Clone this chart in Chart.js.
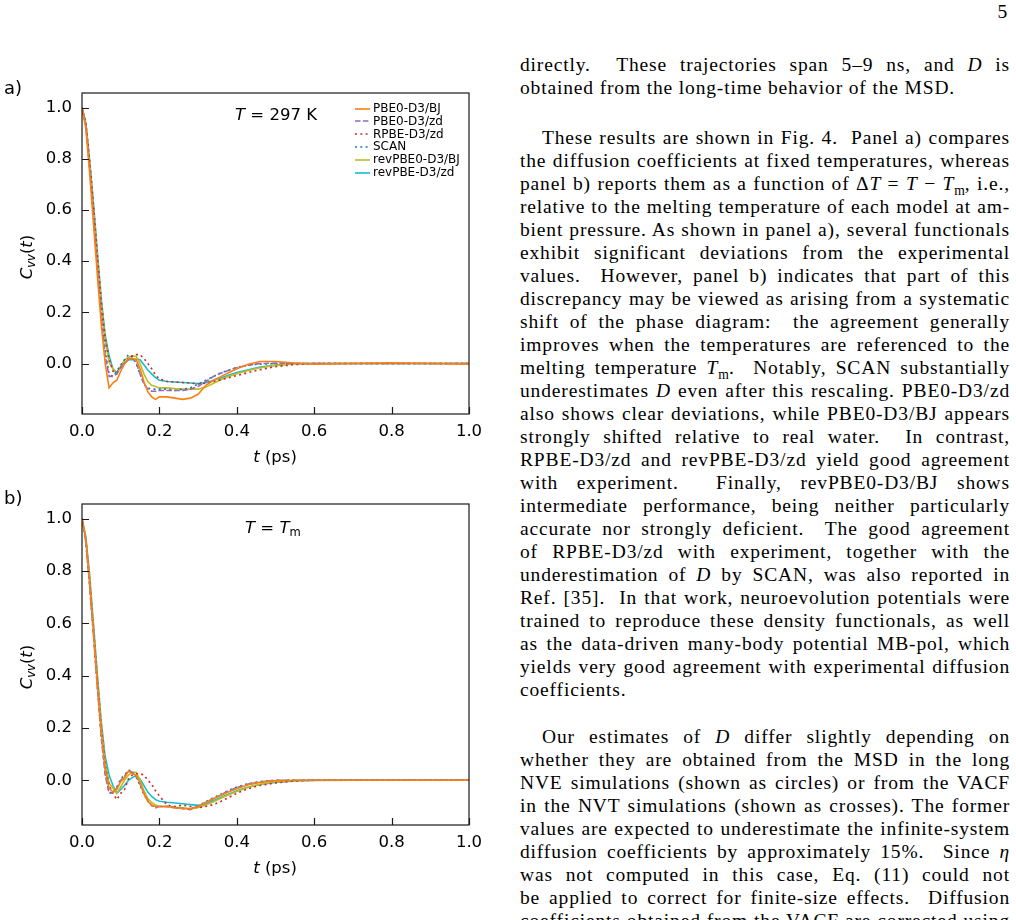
<!DOCTYPE html>
<html>
<head>
<meta charset="utf-8">
<script src="https://cdn.jsdelivr.net/npm/chart.js@4.4.1/dist/chart.umd.min.js"></script>
<style>
html, body { margin: 0; padding: 0; background: #fff; }
#page { position: relative; width: 1016px; height: 920px; overflow: hidden; }
canvas { position: absolute; left: 0; }
.sans { position: absolute; font-family: 'DejaVu Sans', sans-serif; color: #000; white-space: nowrap; line-height: 1; }
.c { transform: translate(-50%, -50%); }
.rot { transform: translate(-50%, -50%) rotate(-90deg); }
.sub { font-size: 70%; position: relative; top: 0.3em; }
.leg { position: absolute; left: 355px; font-family: 'DejaVu Sans', sans-serif; font-size: 12px; line-height: 1; white-space: nowrap; color: #000; }
.leg svg { vertical-align: middle; margin-right: 2px; }
.ln { position: absolute; left: 520px; width: 490px; height: 23px; font-family: 'Liberation Serif', serif; font-size: 19.5px; letter-spacing: 0.85px; line-height: 23px; color: #000; text-align: justify; text-align-last: justify; }
.ln.last { text-align-last: left; }
.ln.ind { text-indent: 22px; }
.ln sub { font-size: 70%; line-height: 0; letter-spacing: 0; }
</style>
</head>
<body>
<div id="page">
  <canvas id="chartA" width="500" height="400" style="top:80px"></canvas>
  <canvas id="chartB" width="500" height="400" style="top:490px"></canvas>
  <div id="overlay"></div>
  <div id="text"></div>
</div>
<script>
// time axis (ps)
const timePs = [0, 0.01, 0.02, 0.03, 0.04, 0.05, 0.06, 0.07, 0.08, 0.09, 0.10, 0.11, 0.12, 0.13, 0.14, 0.15, 0.16, 0.17, 0.18, 0.19,
  0.20, 0.22, 0.24, 0.26, 0.28, 0.30, 0.32, 0.34, 0.36, 0.38, 0.40, 0.43, 0.46, 0.50, 0.55, 0.60, 0.70, 0.80, 0.90, 1.00];
const xTicks = [0, 0.2, 0.4, 0.6, 0.8, 1.0];
const yTicks = [0, 0.2, 0.4, 0.6, 0.8, 1.0];

const names = ['PBE0-D3/BJ', 'PBE0-D3/zd', 'RPBE-D3/zd', 'SCAN', 'revPBE0-D3/BJ', 'revPBE-D3/zd'];
const colors = ['#ff7f0e', '#9467bd', '#d62728', '#1f77b4', '#bcbd22', '#17becf'];
const dashes = [[], [5.5, 2.4], [2, 3.3], [2, 3.3], [], []];

// a) T = 297 K
const pbe0bjA = [1.0, 0.92, 0.74, 0.54, 0.34, 0.15, 0.0, -0.095, -0.075, -0.065, -0.03, 0.0, 0.02, 0.02, 0.015, -0.02, -0.07, -0.11, -0.13, -0.14,
  -0.13, -0.13, -0.135, -0.14, -0.135, -0.12, -0.085, -0.065, -0.05, -0.035, -0.02, -0.003, 0.008, 0.008, 0.002, -0.002, 0.0, 0.003, 0.0, -0.002];
const pbe0zdA = [1.0, 0.93, 0.76, 0.57, 0.37, 0.18, 0.03, -0.05, -0.05, -0.04, -0.015, 0.0, 0.015, 0.02, 0.005, -0.04, -0.08, -0.1, -0.108, -0.108,
  -0.105, -0.105, -0.105, -0.105, -0.1, -0.09, -0.07, -0.05, -0.037, -0.026, -0.016, -0.006, 0.0, 0.002, 0.0, 0.0, 0.0, 0.0, 0.0, 0.0];
const rpbeA = [1.0, 0.94, 0.79, 0.61, 0.42, 0.24, 0.1, 0.02, -0.03, -0.035, -0.015, 0.0, 0.02, 0.03, 0.035, 0.035, 0.02, 0.0, -0.02, -0.045,
  -0.06, -0.07, -0.072, -0.074, -0.076, -0.08, -0.076, -0.07, -0.063, -0.055, -0.047, -0.035, -0.024, -0.012, -0.004, 0.0, 0.0, 0.0, 0.0, 0.0];
const scanA = [1.0, 0.93, 0.77, 0.58, 0.38, 0.2, 0.05, -0.04, -0.05, -0.03, -0.005, 0.015, 0.035, 0.025, 0.0, -0.04, -0.08, -0.095, -0.1, -0.1,
  -0.1, -0.1, -0.105, -0.1, -0.095, -0.08, -0.065, -0.05, -0.035, -0.025, -0.015, -0.006, -0.002, 0.0, 0.0, 0.0, 0.0, 0.0, 0.0, 0.0];
const revpbe0A = [1.0, 0.93, 0.78, 0.6, 0.41, 0.23, 0.09, 0.005, -0.02, -0.04, -0.01, 0.015, 0.025, 0.03, 0.028, 0.0, -0.04, -0.07, -0.085, -0.09,
  -0.095, -0.095, -0.098, -0.1, -0.1, -0.1, -0.092, -0.077, -0.062, -0.05, -0.04, -0.027, -0.016, -0.007, -0.001, 0.0, 0.0, 0.0, 0.0, 0.0];
const revpbeA = [1.0, 0.94, 0.79, 0.62, 0.43, 0.25, 0.11, 0.03, -0.02, -0.035, -0.015, 0.005, 0.015, 0.015, 0.018, 0.015, -0.005, -0.025, -0.04, -0.055,
  -0.065, -0.07, -0.072, -0.074, -0.076, -0.078, -0.075, -0.065, -0.055, -0.045, -0.035, -0.024, -0.014, -0.006, 0.0, 0.0, 0.0, 0.0, 0.0, 0.0];

// b) T = Tm
const pbe0bjB = [1.0, 0.92, 0.75, 0.56, 0.36, 0.18, 0.04, -0.03, -0.045, -0.035, -0.005, 0.01, 0.035, 0.025, 0.02, -0.01, -0.05, -0.08, -0.095, -0.1,
  -0.1, -0.1, -0.105, -0.108, -0.11, -0.1, -0.085, -0.07, -0.057, -0.044, -0.032, -0.017, -0.008, -0.002, 0.0, 0.0, 0.0, 0.0, 0.0, 0.0];
const pbe0zdB = [1.0, 0.91, 0.74, 0.55, 0.35, 0.16, 0.02, -0.05, -0.048, -0.03, 0.0, 0.015, 0.038, 0.03, 0.015, -0.015, -0.05, -0.077, -0.095, -0.105,
  -0.1, -0.1, -0.105, -0.108, -0.112, -0.1, -0.085, -0.07, -0.055, -0.04, -0.028, -0.014, -0.006, 0.0, 0.0, 0.0, 0.0, 0.0, 0.0, 0.0];
const rpbeB = [1.0, 0.92, 0.76, 0.57, 0.38, 0.2, 0.06, -0.02, -0.05, -0.074, -0.05, -0.035, 0.005, 0.02, 0.025, 0.025, 0.02, 0.0, -0.015, -0.04,
  -0.06, -0.095, -0.1, -0.095, -0.1, -0.105, -0.1, -0.093, -0.08, -0.065, -0.05, -0.032, -0.02, -0.01, -0.003, 0.0, 0.0, 0.0, 0.0, 0.0];
const scanB = [1.0, 0.91, 0.74, 0.55, 0.35, 0.17, 0.03, -0.045, -0.05, -0.025, 0.005, 0.02, 0.04, 0.03, 0.012, -0.02, -0.055, -0.08, -0.097, -0.105,
  -0.1, -0.1, -0.105, -0.108, -0.11, -0.098, -0.082, -0.066, -0.052, -0.038, -0.026, -0.013, -0.005, 0.0, 0.0, 0.0, 0.0, 0.0, 0.0, 0.0];
const revpbe0B = [1.0, 0.92, 0.76, 0.57, 0.38, 0.2, 0.06, -0.01, -0.03, -0.05, -0.025, 0.0, 0.02, 0.03, 0.03, 0.0, -0.04, -0.07, -0.085, -0.095,
  -0.1, -0.1, -0.103, -0.105, -0.108, -0.105, -0.095, -0.082, -0.068, -0.055, -0.043, -0.027, -0.015, -0.006, -0.001, 0.0, 0.0, 0.0, 0.0, 0.0];
const revpbeB = [1.0, 0.93, 0.78, 0.59, 0.4, 0.22, 0.09, 0.02, -0.02, -0.05, -0.035, -0.02, 0.0, 0.01, 0.018, 0.005, -0.02, -0.045, -0.062, -0.074,
  -0.08, -0.084, -0.087, -0.09, -0.093, -0.096, -0.09, -0.077, -0.065, -0.052, -0.04, -0.026, -0.016, -0.008, -0.003, -0.001, 0.0, 0.0, 0.0, 0.0];

const seriesA = [pbe0bjA, pbe0zdA, rpbeA, scanA, revpbe0A, revpbeA];
const seriesB = [pbe0bjB, pbe0zdB, rpbeB, scanB, revpbe0B, revpbeB];

Chart.defaults.font.family = "'DejaVu Sans', sans-serif";
Chart.defaults.color = '#000';

// box around the plot and inward ticks, matplotlib style
const framePlugin = {
  id: 'frame',
  afterDraw(chart) {
    const { ctx, chartArea: a, scales: { x, y } } = chart;
    ctx.save();
    ctx.strokeStyle = '#1a1a1a';
    ctx.lineWidth = 1.2;
    ctx.beginPath();
    xTicks.forEach(v => {
      const px = Math.round(x.getPixelForValue(v)) + 0.5;
      ctx.moveTo(px, a.bottom);
      ctx.lineTo(px, a.bottom - 7);
    });
    yTicks.forEach(v => {
      const py = Math.round(y.getPixelForValue(v)) + 0.5;
      ctx.moveTo(a.left, py);
      ctx.lineTo(a.left + 7, py);
    });
    ctx.stroke();
    ctx.strokeRect(a.left, a.top, a.right - a.left, a.bottom - a.top);
    ctx.restore();
  }
};

function makePanel(id, series, yMin, yMax, padTop, padBottom) {
  const ctx = document.getElementById(id).getContext('2d');
  return new Chart(ctx, {
    type: 'line',
    data: {
      datasets: series.map((vals, i) => ({
        label: names[i],
        data: timePs.map((t, j) => ({ x: t, y: vals[j] })),
        borderColor: colors[i],
        borderDash: dashes[i],
        borderWidth: 1.6,
        borderCapStyle: 'butt',
        pointRadius: 0,
        tension: 0,
        fill: false
      }))
    },
    options: {
      responsive: false,
      animation: false,
      layout: { padding: { left: 0, right: 31, top: padTop, bottom: padBottom } },
      plugins: { legend: { display: false }, tooltip: { enabled: false } },
      scales: {
        x: {
          type: 'linear', min: 0, max: 1,
          grid: { display: false, drawTicks: false },
          border: { display: false },
          afterBuildTicks: s => { s.ticks = xTicks.map(v => ({ value: v })); },
          afterFit: s => { s.height = 40; s.paddingLeft = 0; s.paddingRight = 0; },
          ticks: { padding: 8, font: { size: 16.5 }, callback: v => v.toFixed(1) }
        },
        y: {
          min: yMin, max: yMax,
          grid: { display: false, drawTicks: false },
          border: { display: false },
          afterBuildTicks: s => { s.ticks = yTicks.map(v => ({ value: v })); },
          afterFit: s => { s.width = 82; s.paddingTop = 0; s.paddingBottom = 0; },
          ticks: { padding: 10, font: { size: 16.5 }, callback: v => v.toFixed(1) }
        }
      }
    },
    plugins: [framePlugin]
  });
}

makePanel('chartA', seriesA, -0.197, 1.057, 13, 26);
makePanel('chartB', seriesB, -0.171, 1.056, 14, 25);

// labels around the panels
const overlay = document.getElementById('overlay');
function addSans(html, cls, left, top, size) {
  const d = document.createElement('div');
  d.className = 'sans ' + cls;
  d.style.left = left + 'px';
  d.style.top = top + 'px';
  d.style.fontSize = size + 'px';
  d.innerHTML = html;
  overlay.appendChild(d);
}
const yTitle = '<i>C</i><span class="sub"><i>vv</i></span>(<i>t</i>)';
const xTitle = '<i>t</i> (ps)';
addSans('a)', '', 4, 79, 18);
addSans('b)', '', 4, 489, 18);
addSans(yTitle, 'rot', 27, 257, 16.5);
addSans(yTitle, 'rot', 27, 667, 16.5);
addSans(xTitle, 'c', 275, 457, 16.5);
addSans(xTitle, 'c', 275, 868, 16.5);
addSans('<i>T</i> = 297 K', '', 235, 107, 16.5);
addSans('<i>T</i> = <i>T</i><span class="sub">m</span>', '', 245, 520, 16.5);

// legend for panel a
names.forEach((n, i) => {
  const row = document.createElement('div');
  row.className = 'leg';
  row.style.top = (102 + i * 12.8) + 'px';
  const dash = dashes[i].length ? ' stroke-dasharray="' + dashes[i].join(' ') + '"' : '';
  row.innerHTML = '<svg width="16" height="4"><line x1="0" y1="2" x2="15" y2="2" stroke="' + colors[i] +
    '" stroke-width="1.6"' + dash + '/></svg>' + n;
  overlay.appendChild(row);
});

// right column text, one entry per printed line
const paragraphs = [
  { top: 52.5, lines: [
    'directly.&nbsp; These trajectories span 5–9 ns, and <i>D</i> is',
    'obtained from the long-time behavior of the MSD.'] },
  { top: 125.5, lines: [
    'These results are shown in Fig. 4.&nbsp; Panel a) compares',
    'the diffusion coefficients at fixed temperatures, whereas',
    'panel b) reports them as a function of Δ<i>T</i> = <i>T</i> − <i>T</i><sub>m</sub>, i.e.,',
    'relative to the melting temperature of each model at am-',
    'bient pressure. As shown in panel a), several functionals',
    'exhibit significant deviations from the experimental',
    'values.&nbsp; However, panel b) indicates that part of this',
    'discrepancy may be viewed as arising from a systematic',
    'shift of the phase diagram:&nbsp; the agreement generally',
    'improves when the temperatures are referenced to the',
    'melting temperature <i>T</i><sub>m</sub>.&nbsp; Notably, SCAN substantially',
    'underestimates <i>D</i> even after this rescaling. PBE0-D3/zd',
    'also shows clear deviations, while PBE0-D3/BJ appears',
    'strongly shifted relative to real water.&nbsp; In contrast,',
    'RPBE-D3/zd and revPBE-D3/zd yield good agreement',
    'with experiment.&nbsp; Finally, revPBE0-D3/BJ shows',
    'intermediate performance, being neither particularly',
    'accurate nor strongly deficient.&nbsp; The good agreement',
    'of RPBE-D3/zd with experiment, together with the',
    'underestimation of <i>D</i> by SCAN, was also reported in',
    'Ref. [35].&nbsp; In that work, neuroevolution potentials were',
    'trained to reproduce these density functionals, as well',
    'as the data-driven many-body potential MB-pol, which',
    'yields very good agreement with experimental diffusion',
    'coefficients.'] },
  { top: 725, lines: [
    'Our estimates of <i>D</i> differ slightly depending on',
    'whether they are obtained from the MSD in the long',
    'NVE simulations (shown as circles) or from the VACF',
    'in the NVT simulations (shown as crosses). The former',
    'values are expected to underestimate the infinite-system',
    'diffusion coefficients by approximately 15%.&nbsp; Since <i>η</i>',
    'was not computed in this case, Eq. (11) could not',
    'be applied to correct for finite-size effects.&nbsp; Diffusion',
    'coefficients obtained from the VACF are corrected using'] }
];
const textBox = document.getElementById('text');
paragraphs.forEach((p, pi) => {
  p.lines.forEach((l, li) => {
    const d = document.createElement('div');
    let cls = 'ln';
    if (li === 0 && pi > 0) cls += ' ind';
    if (li === p.lines.length - 1 && pi < 2) cls += ' last';
    d.className = cls;
    d.style.top = (p.top + li * 23) + 'px';
    d.innerHTML = l;
    textBox.appendChild(d);
  });
});
const pg = document.createElement('div');
pg.className = 'ln';
pg.style.cssText = 'left:990px;width:18px;top:0px;text-align:right;text-align-last:right;';
pg.textContent = '5';
textBox.appendChild(pg);
</script>
</body>
</html>
